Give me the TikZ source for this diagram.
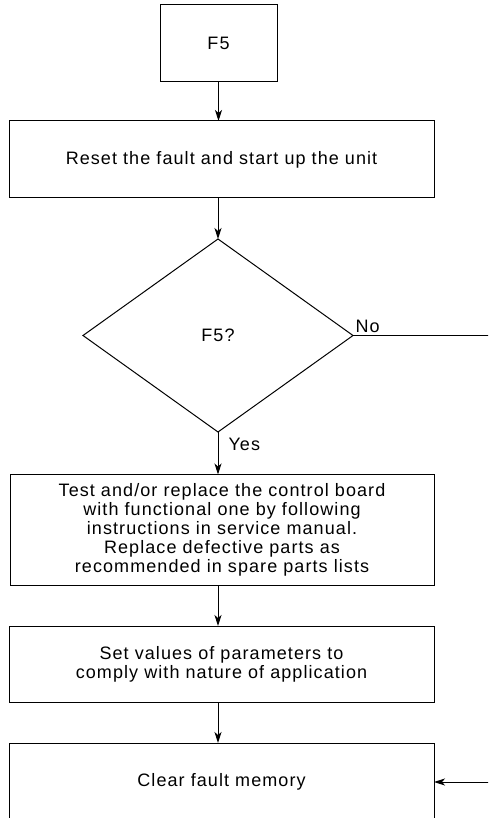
\documentclass[tikz,border=0pt]{standalone}
\usepackage{fontspec}
\setmainfont{Liberation Sans}[LetterSpace=6]
\usetikzlibrary{shapes.geometric,arrows.meta}

\begin{document}
\begin{tikzpicture}[x=1pt,y=-1pt,line width=1pt,
		box/.style={draw, rectangle, inner sep=0pt, outer sep=0pt, align=center,
			font=\fontsize{18}{19}\selectfont},
		ask/.style={draw, diamond, inner sep=0pt, outer sep=0pt,
			minimum width=270pt, minimum height=193pt, font=\fontsize{18}{19}\selectfont},
		flow/.style={-{Stealth[length=11pt,width=7pt,inset=3pt]}},
		tag/.style={font=\fontsize{18}{19}\selectfont, inner sep=2pt}]
		% 画布大小与裁剪
		\useasboundingbox (0,0) rectangle (488,818);
		\clip (0,0) rectangle (488,818);
		
		% 各个步骤框
		\node[box, minimum width=117pt, minimum height=77pt] (f5) at (218.5,43.5) {F5};
		\node[box, minimum width=425pt, minimum height=77pt] (reset) at (221.5,159.5) {Reset the fault and start up the unit};
		\node[ask] (check) at (218,335.5) {F5?};
		\node[box, minimum width=424pt, minimum height=111pt] (test) at (222,530) {Test and/or replace the control board\\with functional one by following\\instructions in service manual.\\Replace defective parts as\\recommended in spare parts lists};
		\node[box, minimum width=425pt, minimum height=76pt] (setpar) at (221.5,664) {Set values of parameters to\\comply with nature of application};
		\node[box, minimum width=425pt, minimum height=78pt] (clear) at (221.5,782) {Clear fault memory};
		
		% 竖直方向的箭头
		\draw[flow] (f5.south) -- (f5.south |- reset.north);
		\draw[flow] (check.north |- reset.south) -- (check.north);
		\draw[flow] (check.south) -- (check.south |- test.north);
		\draw[flow] (check.south |- test.south) -- (check.south |- setpar.north);
		\draw[flow] (check.south |- setpar.south) -- (check.south |- clear.north);
		
		% “No”分支绕到右侧回到清除框
		\coordinate (turn) at (500,0);
		\draw[flow] (check.east) -- (check.east -| turn) -- (turn |- clear.east) -- (clear.east);
		
		% 分支标签
		\node[tag, anchor=south west] (nolabel) at (check.east) {No};
		\node[tag, anchor=west] (yeslabel) at ([xshift=8pt,yshift=-12pt]check.south) {Yes};
	\end{tikzpicture}
\end{document}
